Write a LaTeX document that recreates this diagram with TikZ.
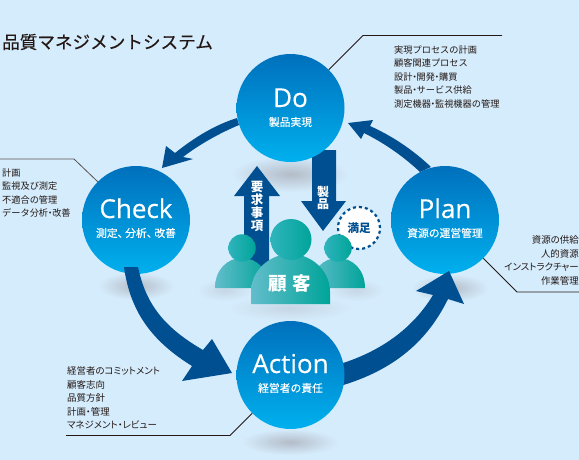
\documentclass[tikz,border=0pt]{standalone}
\usepackage{fontspec}
\setmainfont{Noto Sans CJK JP}
\newfontfamily\latinfont[FakeBold=0.25]{Open Sans}
\newfontfamily\medfont[FakeBold=0.35]{Noto Sans CJK JP}
\newfontfamily\palfont[RawFeature={+palt}]{Noto Sans CJK JP}
\usetikzlibrary{shadings}
\definecolor{bgc}{HTML}{D5ECFC}
\definecolor{arrowc}{HTML}{004F90}
\definecolor{topc}{HTML}{0070BC}
\definecolor{botc}{HTML}{00B0EE}
\definecolor{shadowc}{HTML}{B4BCC8}
\definecolor{tealL}{HTML}{62BDCB}
\definecolor{tealR}{HTML}{00A499}
\definecolor{headL}{HTML}{2FB4BC}
\definecolor{inkc}{HTML}{231815}
\newcommand{\dotj}{\kern-.28em・\kern-.28em}
\newcommand{\commaj}{、\kern-.3em}
\tikzset{
  x=1pt,y=-1pt,
  stage/.style={circle,minimum size=108pt,inner sep=0pt,top color=topc,bottom color=botc,middle color=topc!50!botc},
  stagename/.style={text=white,font=\latinfont\fontsize{26}{28}\selectfont,inner sep=0pt},
  stagesub/.style={text=white,font=\medfont\fontsize{10.8}{12}\selectfont,inner sep=0pt},
  itemlist/.style={text=inkc,font=\fontsize{9.2}{13.5}\selectfont,inner sep=0pt},
  palitems/.style={text=inkc,font=\palfont\fontsize{9.45}{13.5}\selectfont,inner sep=0pt},
  leader/.style={draw=inkc,line width=.8pt},
  flow/.style={fill=arrowc,draw=none},
  shadowblob/.style={inner color=shadowc,outer color=bgc,draw=none},
  faintblob/.style={inner color=shadowc!45!bgc,outer color=bgc,draw=none},
  person/.style={left color=tealL,right color=tealR,draw=none},
  personhead/.style={left color=headL,right color=tealR,circle,inner sep=0pt},
  vlabel/.style={text=white,font=\fontsize{12.5}{13}\selectfont\bfseries,align=center,inner sep=0pt},
}
\begin{document}
\begin{tikzpicture}
\useasboundingbox (0,0) rectangle (579,460);
\fill[bgc] (0,0) rectangle (579,460);
% shadows
\shade[shadowblob] (290,174) ellipse [x radius=58,y radius=18];
\shade[shadowblob] (136,286) ellipse [x radius=38,y radius=14];
\shade[shadowblob] (450,288) ellipse [x radius=38,y radius=14];
\shade[shadowblob] (290,442) ellipse [x radius=48,y radius=13];
\shade[faintblob] (225,290) ellipse [x radius=28,y radius=11];
\shade[faintblob] (356,290) ellipse [x radius=28,y radius=11];
\shade[faintblob] (290,308) ellipse [x radius=62,y radius=13];
% title
\node[anchor=west,inner sep=0pt,text=inkc,font=\medfont\fontsize{17.6}{20}\selectfont] (title) at (2,42) {品質マネジメントシステム};
% flow arrows behind circles
\fill[flow] (237,118) .. controls (215,125) and (195,137) .. (175,153) -- (166,146) -- (162,168) -- (193,159) -- (183,157) .. controls (200,144) and (220,133) .. (239,125) -- cycle;
\fill[flow] (431,167) .. controls (412,149) and (392,136) .. (370,126) -- (373,120) -- (348,123) -- (361,139) -- (364,133) .. controls (384,143) and (403,156) .. (420,172) -- cycle;
% centre arrows
\fill[flow] (257,166) -- (280,196) -- (269,196) -- (269,270) -- (244,270) -- (244,196) -- (234,196) -- cycle;
\fill[flow] (312,150) -- (336,150) -- (336,201) -- (346,201) -- (323,231) -- (301,201) -- (312,201) -- cycle;
% circles
\node[stage] (do) at (290.5,108) {};
\node[stage] (check) at (136,220) {};
\node[stage] (plan) at (445,220) {};
% arrows over circles
\fill[flow] (124,267) .. controls (130,310) and (150,340) .. (192,366) -- (182,381) -- (232,373) -- (212,339) -- (203,350) .. controls (165,328) and (146,305) .. (138,267) -- cycle;
\fill[flow] (340,364) .. controls (385,350) and (415,325) .. (433,295) -- (416,291) -- (449,271) -- (464,304) -- (448,299) .. controls (428,340) and (395,370) .. (340,386) -- cycle;
\node[stage] (action) at (290.5,375) {};
% circle labels
\node[stagename,anchor=base] (doT) at (290.5,107) {Do};
\node[stagesub] (doS) at (290.5,122) {製品実現};
\node[stagename,anchor=base] (checkT) at (136,218) {Check};
\node[stagesub] (checkS) at (136,233) {測定\commaj 分析\commaj 改善};
\node[stagename,anchor=base] (planT) at (445,218) {Plan};
\node[stagesub] (planS) at (445,233) {資源の運営管理};
\node[stagename,anchor=base] (actionT) at (290.5,373) {Action};
\node[stagesub] (actionS) at (290.5,388) {経営者の責任};
% labels on centre arrows
\node[vlabel] (req) at (257,206.5) {要\\求\\事\\項};
\node[vlabel,font=\fontsize{12}{12.5}\selectfont\bfseries] (prod) at (323,198) {製\\品};
% satisfaction badge
\node[circle,minimum size=42pt,inner sep=0pt,fill=white,draw=arrowc,line width=2.2pt,dash pattern=on 3pt off 3pt,text=arrowc,font=\fontsize{11.5}{13}\selectfont\bfseries] (sat) at (359,228) {満足};
% customers
\path[person] (215,288) .. controls (215,270) and (227,258) .. (242,258) .. controls (257,258) and (269,270) .. (269,288) -- cycle;
\node[personhead,minimum size=27.5pt] (headL) at (242,248) {};
\path[person] (311,288) .. controls (311,270) and (323,258) .. (338,258) .. controls (353,258) and (365,270) .. (365,288) -- cycle;
\node[personhead,minimum size=27.5pt] (headR) at (338,248) {};
\path[person] (251,304) -- (251,292) .. controls (251,270) and (270,254) .. (290.5,254) .. controls (311,254) and (330,270) .. (330,292) -- (330,304) -- cycle;
\node[personhead,minimum size=41pt] (headB) at (291,239.5) {};
\node[text=white,inner sep=0pt,font=\fontsize{18.5}{20}\selectfont\bfseries] (cust) at (290,283) {顧\kern.3em 客};
% item lists
\node[itemlist,anchor=north west,align=left] (doL) at (394,45.5) {実現プロセスの計画\\顧客関連プロセス\\設計\dotj 開発\dotj 購買\\製品\dotj サービス供給\\測定機器\dotj 監視機器の管理};
\node[itemlist,anchor=north west,align=left] (checkL) at (2,168.5) {計画\\監視及び測定\\不適合の管理\\データ分析\dotj 改善};
\node[palitems,anchor=north west,align=left] (actionL) at (67,366.5) {経営者のコミットメント\\顧客志向\\品質方針\\計画・管理\\マネジメント・レビュー};
\node[palitems,anchor=north east,align=right] (planL) at (579,235.5) {資源の供給\\人的資源\\インストラクチャー\\作業管理};
% leaders
\coordinate (doA) at (363,35.5);
\coordinate (doB) at (502,35.5);
\coordinate (chA) at (74,159);
\coordinate (chB) at (0,159);
\coordinate (acA) at (230,435.5);
\coordinate (acB) at (66,435.5);
\coordinate (plA) at (517,292);
\coordinate (plB) at (579,292);
\draw[leader] (do.45) -- (doA) -- (doB);
\draw[leader,draw=inkc!75] (check.135) -- (chA) -- (chB);
\draw[leader] (action.225) -- (acA) -- (acB);
\draw[leader] (plan.315) -- (plA) -- (plB);
\end{tikzpicture}
\end{document}
